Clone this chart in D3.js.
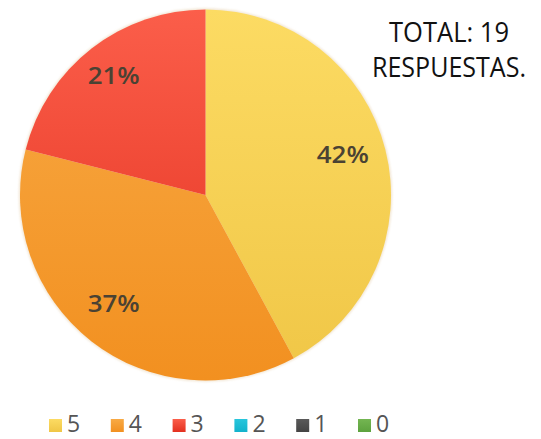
<!DOCTYPE html>
<html>
<head>
<meta charset="utf-8">
<script src="https://cdn.jsdelivr.net/npm/d3@7"></script>
<style>
  html, body { margin: 0; padding: 0; background: #ffffff; }
  svg { display: block; }
</style>
</head>
<body>
<svg id="chart" width="541" height="439"></svg>
<script>
// ---- data ----
const categories = ["5", "4", "3", "2", "1", "0"];
const counts = [8, 7, 4, 0, 0, 0];
const percentLabels = ["42%", "37%", "21%", "0%", "0%", "0%"];
const titleLines = ["TOTAL: 19", "RESPUESTAS."];
const colorsTop = ["#fcdb63", "#f8aa45", "#fb5e4a", "#28c6dc", "#5a5a5a", "#74b652"];
const colorsBottom = ["#f0c646", "#f29020", "#e3301f", "#12b2cc", "#444444", "#5da23e"];

// ---- layout ----
const svg = d3.select("#chart");
const cx = 205.5, cy = 195, r = 185.5;

const defs = svg.append("defs");
categories.forEach((c, i) => {
  const g = defs.append("linearGradient")
    .attr("id", "grad" + i)
    .attr("gradientUnits", "userSpaceOnUse")
    .attr("x1", 0).attr("y1", -r).attr("x2", 0).attr("y2", r);
  g.append("stop").attr("offset", "0%").attr("stop-color", colorsTop[i]);
  g.append("stop").attr("offset", "100%").attr("stop-color", colorsBottom[i]);
  const lg = defs.append("linearGradient").attr("id", "lg" + i)
    .attr("x1", 0).attr("y1", 0).attr("x2", 0).attr("y2", 1);
  lg.append("stop").attr("offset", "0%").attr("stop-color", colorsTop[i]);
  lg.append("stop").attr("offset", "100%").attr("stop-color", colorsBottom[i]);
});
const blur = defs.append("filter").attr("id", "soft")
  .attr("x", "-10%").attr("y", "-10%").attr("width", "120%").attr("height", "120%");
blur.append("feGaussianBlur").attr("stdDeviation", 1);

const pie = d3.pie().sort(null).value(d => d.value);
const data = categories.map((c, i) => ({ cat: c, value: counts[i], label: percentLabels[i], i }));
const arcs = pie(data).filter(a => a.data.value > 0);
const arc = d3.arc().innerRadius(0).outerRadius(r);
const labelArc = d3.arc().innerRadius(r * 0.78).outerRadius(r * 0.78);

const g = svg.append("g").attr("transform", `translate(${cx},${cy})`);

// soft halo
g.append("circle").attr("r", r + 1.2).attr("fill", "#e9d6b8").attr("opacity", 0.6).attr("filter", "url(#soft)");

g.selectAll("path.slice")
  .data(arcs)
  .join("path")
  .attr("class", "slice")
  .attr("d", arc)
  .attr("fill", d => `url(#grad${d.data.i})`);

g.selectAll("text.pct")
  .data(arcs)
  .join("text")
  .attr("class", "pct")
  .attr("transform", d => { const c = labelArc.centroid(d); return `translate(${c[0] - 3},${c[1] - 5})`; })
  .attr("text-anchor", "middle")
  .attr("dy", "0.36em")
  .attr("font-family", "'Open Sans', sans-serif")
  .attr("font-weight", 600)
  .attr("font-size", 23)
  .attr("fill", "#4a4233")
  .attr("textLength", 52)
  .attr("lengthAdjust", "spacingAndGlyphs")
  .text(d => d.data.label);

// title
const titleWidths = [120, 154];
const title = svg.append("text")
  .attr("text-anchor", "middle")
  .attr("font-family", "'Open Sans', sans-serif")
  .attr("font-size", 27)
  .attr("fill", "#111111");
title.selectAll("tspan").data(titleLines).join("tspan")
  .attr("x", 449)
  .attr("y", (d, i) => 42 + i * 34.5)
  .attr("textLength", (d, i) => titleWidths[i])
  .attr("lengthAdjust", "spacingAndGlyphs")
  .text(d => d);

// legend
const legendX = d3.scalePoint().domain(categories).range([49, 358]);
const leg = svg.append("g").selectAll("g").data(categories).join("g")
  .attr("transform", d => `translate(${legendX(d)},0)`);
leg.append("rect")
  .attr("x", 0).attr("y", 419).attr("width", 13).attr("height", 13)
  .attr("fill", (d, i) => `url(#lg${i})`);
leg.append("text")
  .attr("x", 18).attr("y", 432)
  .attr("font-family", "'Open Sans', sans-serif")
  .attr("font-size", 23)
  .attr("fill", "#555555")
  .text(d => d);
</script>
</body>
</html>
